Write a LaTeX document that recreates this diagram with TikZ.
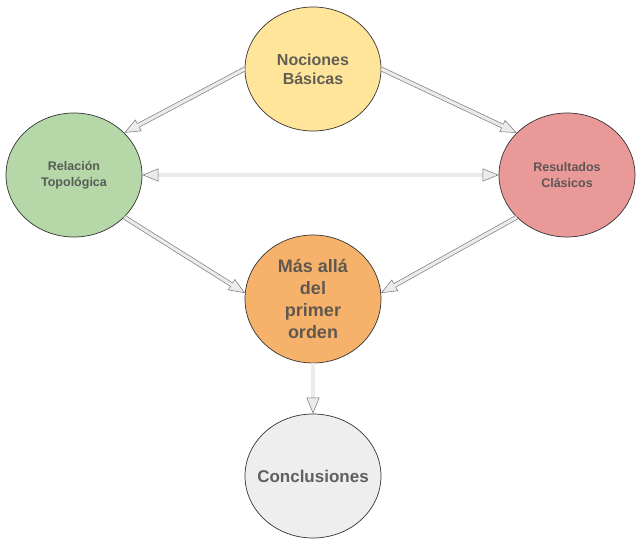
\documentclass[tikz,border=0pt]{standalone}
\usepackage{fontspec}
\setmainfont{Liberation Sans}
\usetikzlibrary{arrows.meta,shapes.geometric}
\definecolor{cyellow}{HTML}{FFE599}
\definecolor{cgreen}{HTML}{B6D7A8}
\definecolor{cred}{HTML}{EA9999}
\definecolor{corange}{HTML}{F6B26B}
\definecolor{cgray}{HTML}{EEEEEE}
\definecolor{shaft}{HTML}{EBEBEB}
\tikzset{
  bubble/.style={ellipse, draw=black!80, line width=0.7pt, minimum width=136pt, minimum height=124pt,
    inner sep=0pt, align=center, font=\bfseries, text=black!70, text opacity=0.88},
  mytip/.tip={Triangle[length=16pt, width=13pt, line width=0.5pt, fill=shaft, color=black!55]},
  dconn/.style={line width=4.6pt, draw=black!50, -{mytip},
    postaction={draw=shaft, line width=3.2pt, shorten >=15pt, -}},
  sconn/.style={line width=3.5pt, draw=shaft, -{mytip}},
  bconn/.style={line width=3.5pt, draw=shaft, {mytip}-{mytip}},
}
\begin{document}
\begin{tikzpicture}[x=1pt,y=-1pt]
\useasboundingbox (0,0) rectangle (641,540);
\node[bubble, fill=cyellow, font=\bfseries\fontsize{16}{19}\selectfont] (nb) at (313,69) {Nociones\\Básicas};
\node[bubble, fill=cgreen, font=\bfseries\fontsize{12.5}{16}\selectfont] (rt) at (74,175) {Relación\\Topológica};
\node[bubble, fill=cred, font=\bfseries\fontsize{12.5}{16}\selectfont] (rc) at (567,175) {Resultados\\Clásicos};
\node[bubble, fill=corange, minimum height=128pt, font=\bfseries\fontsize{18}{22}\selectfont] (ma) at (313,299) {Más allá\\del\\primer\\orden};
\node[bubble, fill=cgray, font=\bfseries\fontsize{17}{20}\selectfont] (cc) at (313,476) {\makebox[0pt]{Conclusiones}};

\draw[dconn] (nb.west) -- (rt.40);
\draw[dconn] (nb.east) -- (rc.140);
\draw[dconn] (rt.-40) -- (ma.175);
\draw[dconn] (rc.220) -- (ma.5);
\draw[bconn] (rt.east) -- (rc.west);
\draw[sconn] (ma.south) -- (cc.north);
\end{tikzpicture}
\end{document}
